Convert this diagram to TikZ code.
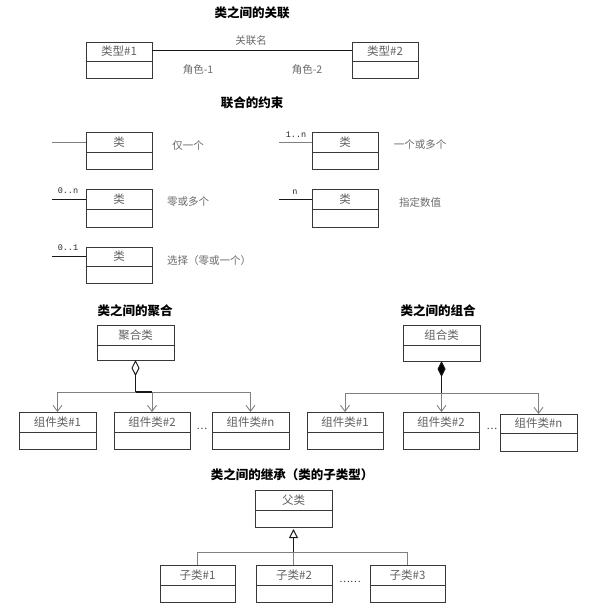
\documentclass[tikz,border=0pt]{standalone}
\usepackage{fontspec}
\setmainfont{Noto Sans CJK SC}
\newfontfamily\monof{Liberation Mono}
\usetikzlibrary{arrows.meta}
\tikzset{
  boxline/.style={draw=black!78, line width=0.9pt},
  clsbox/.style={boxline, inner sep=0pt, outer sep=0pt},
  clstext/.style={text=black!62, font=\fontsize{11.5}{13}\selectfont, inner sep=0pt},
  titletext/.style={text=black, font=\bfseries\fontsize{12.5}{14}\selectfont, inner sep=0pt},
  lbl/.style={text=black!58, font=\fontsize{10.5}{12}\selectfont, inner sep=0pt},
  mult/.style={text=black!85, font=\monof\fontsize{8.5}{10}\selectfont, inner sep=0pt},
  conn/.style={draw=black!50, line width=0.9pt},
  assoc/.style={draw=black!90, line width=0.9pt},
  strong/.style={draw=black!90, line width=1.6pt},
  openarr/.style={-{Straight Barb[length=6pt,width=9pt,line width=0.9pt]}},
  dots/.style={text=black!80, font=\fontsize{10}{12}\selectfont, inner sep=0pt}
}
\newcommand\umlbox[7]{%
  \node[clsbox, anchor=north west, minimum width=#4pt-#2pt, minimum height=#6pt-#3pt] (#1) at (#2,#3) {};
  \draw[boxline] (#2,#5) -- (#4,#5);
  \node[clstext] (#1-t) at ({(#2+#4)/2},{(#3+#5)/2}) {#7};
}
\begin{document}
\begin{tikzpicture}[x=1pt,y=-1pt]
\useasboundingbox[fill=white] (0,0) rectangle (598,611);

% ---------- association ----------
\node[titletext] (tA) at (252,13) {类之间的关联};
\umlbox{t1}{86}{42}{152}{61}{78}{类型\#1}
\umlbox{t2}{352}{42}{418}{61}{78}{类型\#2}
\draw[assoc] ([yshift=10pt]t1.east) -- ([yshift=10pt]t2.west);
\node[lbl] (an) at (251,41) {关联名};
\node[lbl] (r1) at (198,70) {角色-1};
\node[lbl] (r2) at (307,70) {角色-2};

% ---------- multiplicity ----------
\node[titletext] (tB) at (252,103) {联合的约束};
\umlbox{c1}{86}{132}{152}{152}{169}{类}
\umlbox{c2}{312}{132}{378}{152}{169}{类}
\umlbox{c3}{86}{189}{152}{209}{227}{类}
\umlbox{c4}{312}{189}{378}{209}{227}{类}
\umlbox{c5}{86}{247}{152}{266}{283}{类}
\coordinate (c1L) at (52,142);
\coordinate (c2L) at (279,142);
\coordinate (c3L) at (52,199);
\coordinate (c4L) at (279,199);
\coordinate (c5L) at (52,256);
\draw[conn] (c1L) -- (c1L -| c1.west);
\draw[conn] (c2L) -- (c2L -| c2.west);
\draw[assoc] (c3L) -- (c3L -| c3.west);
\draw[assoc] (c4L) -- (c4L -| c4.west);
\draw[assoc] (c5L) -- (c5L -| c5.west);
\node[mult] (m2) at (296,135) {1..n};
\node[mult] (m3) at (68,191) {0..n};
\node[mult] (m4) at (295,192) {n};
\node[mult] (m5) at (68,248) {0..1};
\node[lbl] (d1) at (188,145) {仅一个};
\node[lbl] (d2) at (420,145) {一个或多个};
\node[lbl] (d3) at (188,202) {零或多个};
\node[lbl] (d4) at (420,202) {指定数值};
\node[lbl] (d5) at (209,261) {选择（零或一个）};

% ---------- aggregation ----------
\node[titletext] (tC) at (135,311) {类之间的聚合};
\umlbox{agg}{97}{325}{174}{345}{360}{聚合类}
\umlbox{k1}{19}{412}{96}{432}{449}{组件类\#1}
\umlbox{k2}{114}{412}{190}{432}{449}{组件类\#2}
\umlbox{k3}{212}{412}{289}{432}{449}{组件类\#n}
\node[dots] (kd) at (202,429) {\ldots};
\coordinate (aggj) at (135.5,392);
\draw[conn] (k1.north |- aggj) -- (k3.north |- aggj);
\draw[conn,openarr] (k1.north |- aggj) -- (k1.north);
\draw[conn,openarr] (k2.north |- aggj) -- (k2.north);
\draw[conn,openarr] (k3.north |- aggj) -- (k3.north);
\draw[strong] (k2.north |- aggj) -- (aggj);
\draw[strong,-{Diamond[open,fill=white,length=16pt,width=8pt,line width=1pt]}] (aggj) -- (agg.south);

% ---------- composition ----------
\node[titletext] (tD) at (438,311) {类之间的组合};
\umlbox{comp}{403}{325}{480}{345}{361}{组合类}
\umlbox{n1}{307}{412}{383}{432}{449}{组件类\#1}
\umlbox{n2}{403}{412}{479}{432}{449}{组件类\#2}
\umlbox{n3}{500}{414}{577}{433}{451}{组件类\#n}
\node[dots] (nd) at (492,429) {\ldots};
\coordinate (compj) at (441.5,393);
\draw[conn] (n1.north |- compj) -- (n3.north |- compj);
\draw[conn,openarr] (n1.north |- compj) -- (n1.north);
\draw[conn,openarr] (compj) -- (compj |- n2.north);
\draw[conn,openarr] (n3.north |- compj) -- (n3.north);
\draw[strong,-{Diamond[fill=black,length=16pt,width=8pt,line width=1pt]}] (compj) -- (comp.south);

% ---------- inheritance ----------
\node[titletext] (tE) at (292,475) {类之间的继承（类的子类型）};
\umlbox{par}{255}{490}{332}{510}{527}{父类}
\umlbox{s1}{160}{565}{235}{585}{602}{子类\#1}
\umlbox{s2}{256}{565}{332}{585}{602}{子类\#2}
\umlbox{s3}{370}{565}{445}{585}{602}{子类\#3}
\node[dots] (sd) at (350,582) {\ldots\ldots};
\coordinate (parj) at (293.5,552);
\draw[conn] (s1.north |- parj) -- (s3.north |- parj);
\draw[conn] (s1.north |- parj) -- (s1.north);
\draw[conn] (parj) -- (parj |- s2.north);
\draw[conn] (s3.north |- parj) -- (s3.north);
\draw[strong,-{Triangle[open,fill=white,length=9pt,width=9pt,line width=1pt]}] (parj) -- ([yshift=-2pt]par.south);
\end{tikzpicture}
\end{document}
